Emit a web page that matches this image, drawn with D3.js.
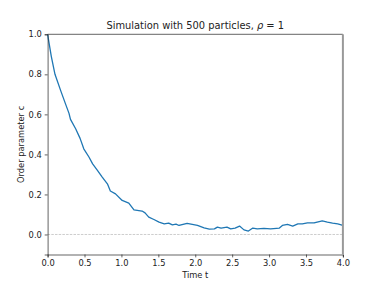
<!DOCTYPE html>
<html><head><meta charset="utf-8">
<script src="https://cdn.jsdelivr.net/npm/d3@7"></script>
<style>
body{margin:0;background:#fff;}
svg{display:block;font-family:"DejaVu Sans",sans-serif;}
</style></head>
<body>
<svg id="c" width="381" height="286"></svg>
<script>
const titleText = "Simulation with 500 particles, ";
const xLabel = "Time t";
const yLabel = "Order parameter c";
const xTicks = [0,0.5,1,1.5,2,2.5,3,3.5,4];
const yTicks = [0,0.2,0.4,0.6,0.8,1.0];
const times = [0,0.05,0.1,0.176,0.24,0.29,0.31,0.38,0.44,0.49,0.56,0.61,0.67,0.74,0.81,0.85,0.92,1.01,1.10,1.17,1.28,1.32,1.37,1.44,1.51,1.58,1.64,1.69,1.74,1.78,1.89,1.96,2.03,2.12,2.19,2.26,2.30,2.35,2.43,2.48,2.54,2.60,2.66,2.72,2.78,2.84,2.93,3.02,3.14,3.18,3.25,3.32,3.39,3.45,3.52,3.61,3.72,3.79,3.86,3.93,4.0];
const order = [1.0,0.89,0.80,0.72,0.655,0.605,0.575,0.528,0.48,0.428,0.387,0.353,0.323,0.287,0.253,0.217,0.203,0.17,0.157,0.123,0.117,0.108,0.087,0.075,0.062,0.053,0.057,0.048,0.052,0.045,0.055,0.05,0.045,0.033,0.027,0.028,0.037,0.032,0.037,0.028,0.032,0.042,0.023,0.017,0.032,0.028,0.03,0.028,0.032,0.045,0.05,0.042,0.053,0.053,0.058,0.058,0.068,0.062,0.057,0.053,0.045];

const svg = d3.select("#c");
const L=47.6,R=342.9,T=34.3,B=254.5;
const x = d3.scaleLinear().domain([0,4]).range([L,R]);
const y = d3.scaleLinear().domain([-0.1,1.0]).range([B,T]);

// zero line
svg.append("line").attr("x1",L).attr("x2",R).attr("y1",y(0)).attr("y2",y(0))
  .attr("stroke","#aaaaaa").attr("stroke-width",0.6).attr("stroke-dasharray","2.5,1.2");

// data line
svg.append("path").datum(times.map((t,i)=>[t,order[i]]))
  .attr("fill","none").attr("stroke","#1f77b4").attr("stroke-width",1.3)
  .attr("stroke-linejoin","round")
  .attr("d",d3.line().x(d=>x(d[0])).y(d=>y(d[1])));

// axes
const xa = svg.append("g").attr("transform",`translate(0,${B})`)
  .call(d3.axisBottom(x).tickValues(xTicks).tickFormat(d3.format(".1f")).tickSizeOuter(0).tickSize(2.9).tickPadding(2.9));
const ya = svg.append("g").attr("transform",`translate(${L},0)`)
  .call(d3.axisLeft(y).tickValues(yTicks).tickFormat(d3.format(".1f")).tickSizeOuter(0).tickSize(2.9).tickPadding(2.9));
[xa,ya].forEach(a=>{
  a.selectAll("text").attr("font-size","8.3px").attr("fill","#222").attr("font-family","DejaVu Sans");
  a.selectAll("line").attr("stroke","#222").attr("stroke-width",0.7);
  a.select(".domain").attr("stroke","#222").attr("stroke-width",0.7);
});
// top spine
svg.append("line").attr("x1",L).attr("x2",R).attr("y1",T).attr("y2",T).attr("stroke","#222").attr("stroke-width",0.7);
// right marker line (gray)
svg.append("line").attr("x1",R).attr("x2",R).attr("y1",T).attr("y2",B).attr("stroke","#999").attr("stroke-width",2);

// title
const tt = svg.append("text").attr("x",(L+R)/2).attr("y",29).attr("text-anchor","middle")
  .attr("font-size","9.9px").attr("fill","#222");
tt.append("tspan").text(titleText);
tt.append("tspan").attr("font-style","italic").text("ρ");
tt.append("tspan").text(" = 1");

svg.append("text").attr("x",(L+R)/2).attr("y",278).attr("text-anchor","middle")
  .attr("font-size","8.3px").attr("fill","#222").text(xLabel);
svg.append("text").attr("transform",`translate(24,${(T+B)/2}) rotate(-90)`).attr("text-anchor","middle")
  .attr("font-size","8.3px").attr("fill","#222").text(yLabel);
</script>
</body></html>
